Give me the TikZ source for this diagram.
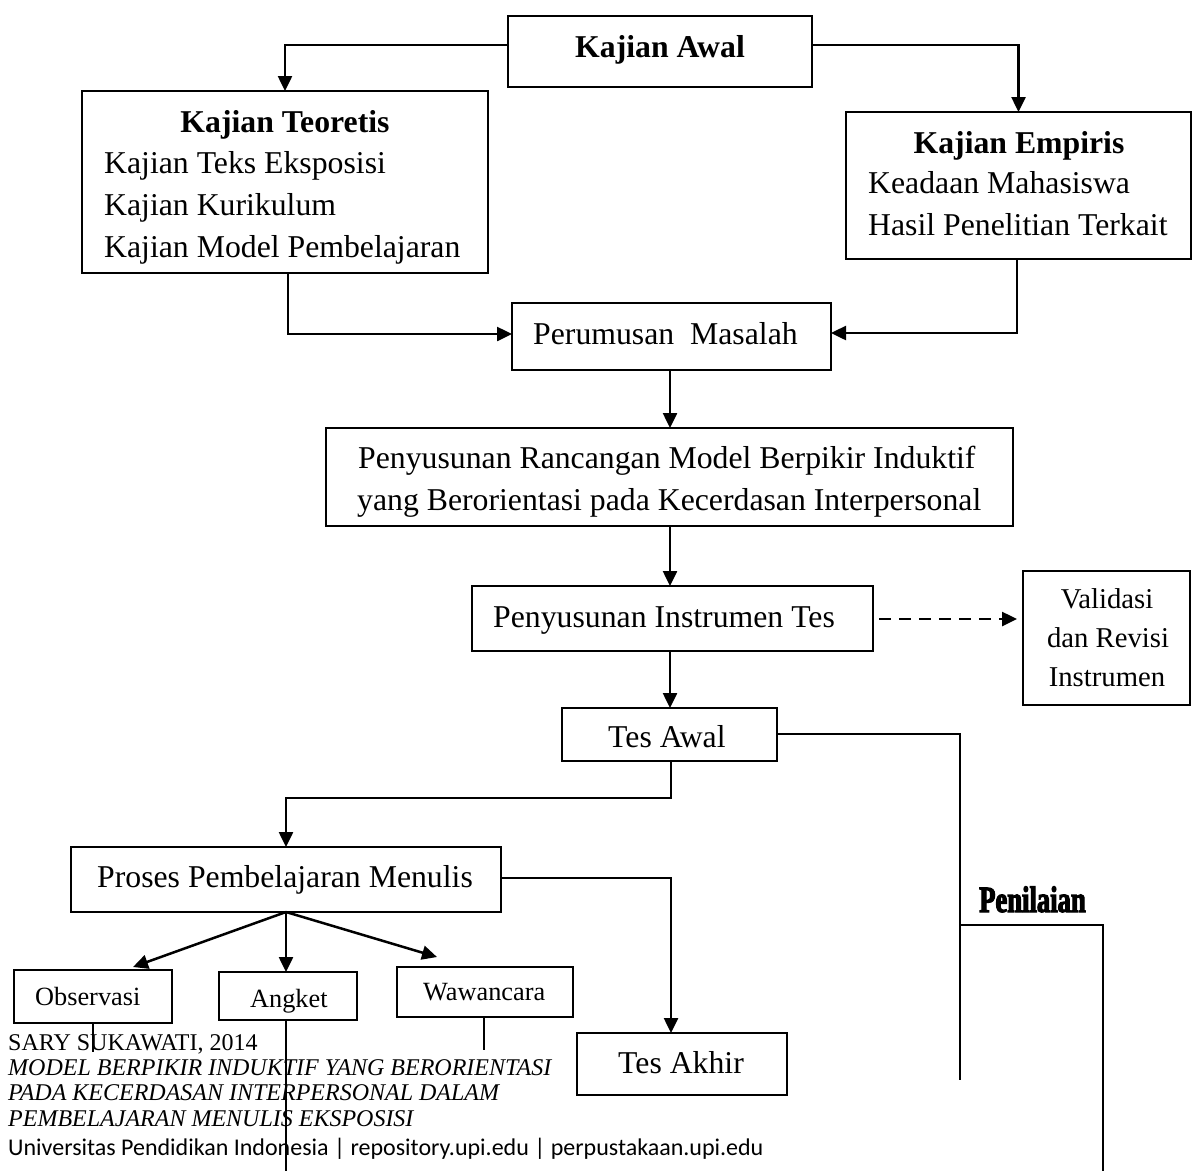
\documentclass[tikz,border=0pt]{standalone}
\usepackage{fontspec}
\usepackage{graphicx}
\setmainfont{Liberation Serif}
\newfontfamily\calib{Carlito}
\newfontfamily\penfont[FakeStretch=0.72,FakeBold=3]{Liberation Serif}
\usetikzlibrary{arrows.meta,calc}
\newcommand\mybox[5]{\node[boxst, minimum width={#4-#2}, minimum height={#5-#3}] (#1) at ({(#2+#4)/2},{(#3+#5)/2}) {};}
\begin{document}
\begin{tikzpicture}[x=1pt,y=-1pt,
  boxst/.style={draw, line width=1.9pt, inner sep=0pt, outer sep=0pt},
  arr/.style={line width=2.5pt, -{Triangle[length=15pt,width=14pt]}},
  dasharr/.style={line width=2.5pt, dash pattern=on 12pt off 8pt, -{Triangle[length=15pt,width=14pt]}},
  thin/.style={line width=1.3pt},
  big/.style={font=\fontsize{31.75}{42}\selectfont, inner sep=0pt},
  mid/.style={font=\fontsize{26.3}{35}\selectfont, inner sep=0pt},
  val/.style={font=\fontsize{28.7}{38}\selectfont, inner sep=0pt},
  foot/.style={font=\fontsize{24}{26}\selectfont, inner sep=0pt, anchor=base west}]
\useasboundingbox (0,0) rectangle (1192,1171);
\fill[white] (0,0) rectangle (1192,1171);

% boxes
\mybox{awal}{508}{16}{812}{87}
\mybox{teo}{82}{91}{488}{273}
\mybox{emp}{846}{112}{1191}{259}
\mybox{rum}{512}{303}{831}{370}
\mybox{ran}{326}{428}{1013}{526}
\mybox{ins}{472}{586}{873}{651}
\mybox{val}{1023}{571}{1190}{705}
\mybox{awl}{562}{708}{777}{761}
\mybox{pro}{71}{847}{501}{912}
\mybox{obs}{14}{970}{172}{1023}
\mybox{ang}{219}{972}{357}{1020}
\mybox{waw}{397}{967}{573}{1017}
\mybox{akh}{577}{1033}{787}{1095}

% texts
\node[big, anchor=base, font=\fontsize{31.75}{42}\selectfont\bfseries] (tawal) at (660,57) {Kajian Awal};
\node[big, anchor=base, font=\fontsize{31.75}{42}\selectfont\bfseries] (tteo) at (285,132) {Kajian Teoretis};
\node[big, anchor=base west] (tteo1) at (104,173) {Kajian Teks Eksposisi};
\node[big, anchor=base west] (tteo2) at (104,215) {Kajian Kurikulum};
\node[big, anchor=base west] (tteo3) at (104,257) {Kajian Model Pembelajaran};
\node[big, anchor=base, font=\fontsize{31.75}{42}\selectfont\bfseries] (temp) at (1019,153) {Kajian Empiris};
\node[big, anchor=base west] (temp1) at (868,193) {Keadaan Mahasiswa};
\node[big, anchor=base west] (temp2) at (868,235) {Hasil Penelitian Terkait};
\node[big, anchor=base west] (trum) at (533,344) {Perumusan\ \ Masalah};
\node[big, anchor=base west] (tran1) at (358,468) {Penyusunan Rancangan Model Berpikir Induktif};
\node[big, anchor=base west] (tran2) at (357,510) {yang Berorientasi pada Kecerdasan Interpersonal};
\node[big, anchor=base west] (tins) at (493,627) {Penyusunan Instrumen Tes};
\node[val, anchor=base] (tval1) at (1107,608) {Validasi};
\node[val, anchor=base] (tval2) at (1108,647) {dan Revisi};
\node[val, anchor=base] (tval3) at (1107,686) {Instrumen};
\node[big, anchor=base west] (tawl) at (608,747) {Tes Awal};
\node[big, anchor=base west] (tpro) at (97,887) {Proses Pembelajaran Menulis};
\node[mid, anchor=base west] (tobs) at (35,1005) {Observasi};
\node[mid, anchor=base west] (tang) at (250,1007) {Angket};
\node[mid, anchor=base west] (twaw) at (423,1000) {Wawancara};
\node[big, anchor=base west] (takh) at (618,1073) {Tes Akhir};
\node[inner sep=0pt, anchor=base west, font=\fontsize{37}{40}\penfont\bfseries] (tpen) at (979,912) {Penilaian};

% connectors
\draw[arr] (awal.west |- 0,45) -| (teo.north);
\draw[arr] (awal.east |- 0,45) -| (emp.north);
\draw[arr] (teo.south -| 288,0) |- (rum.west |- 0,334);
\draw[arr] (emp.south -| 1017,0) |- (rum.east |- 0,333);
\draw[arr] (rum.south -| 670,0) -- (ran.north -| 670,0);
\draw[arr] (ran.south -| 670,0) -- (ins.north -| 670,0);
\draw[dasharr, shorten <=6pt, shorten >=6pt] (ins.east |- 0,619) -- (val.west |- 0,619);
\draw[arr] (ins.south -| 670,0) -- (awl.north -| 670,0);
\draw[arr] (awl.south -| 671,0) |- (286,798) -- (pro.north -| 286,0);
\coordinate (pend) at (960,1080);
\coordinate (pjoin) at (960,925);
\coordinate (pbot) at (1103,1171);
\draw[thin] (awl.east |- 0,734) -| (pend);
\draw[thin] (pjoin) -| (pbot);
\draw[arr] (pro.east |- 0,878) -| (akh.north -| 671,0);
\draw[arr] (pro.south) -- ($(obs.north)+(40,-3)$);
\draw[arr] (pro.south) -- (pro.south |- ang.north);
\draw[arr] (pro.south) -- ($(waw.north)+(-48,-10)$);
\coordinate (oend) at (93,1052);
\coordinate (aend) at (286,1171);
\coordinate (wend) at (484,1050);
\draw[thin] (obs.south -| oend) -- (oend);
\draw[thin] (ang.south -| aend) -- (aend);
\draw[thin] (waw.south -| wend) -- (wend);

% footer
\node[foot] (f1) at (8,1050) {SARY SUKAWATI, 2014};
\node[foot, font=\fontsize{24}{26}\selectfont\itshape] (f2) at (8,1075) {MODEL BERPIKIR INDUKTIF YANG BERORIENTASI};
\node[foot, font=\fontsize{24}{26}\selectfont\itshape] (f3) at (8,1100) {PADA KECERDASAN INTERPERSONAL DALAM};
\node[foot, font=\fontsize{24}{26}\selectfont\itshape] (f4) at (8,1126) {PEMBELAJARAN MENULIS EKSPOSISI};
\node[foot, font=\fontsize{24}{26}\calib] (f5) at (8,1155) {Universitas Pendidikan Indonesia | repository.upi.edu | perpustakaan.upi.edu};
\end{tikzpicture}
\end{document}
